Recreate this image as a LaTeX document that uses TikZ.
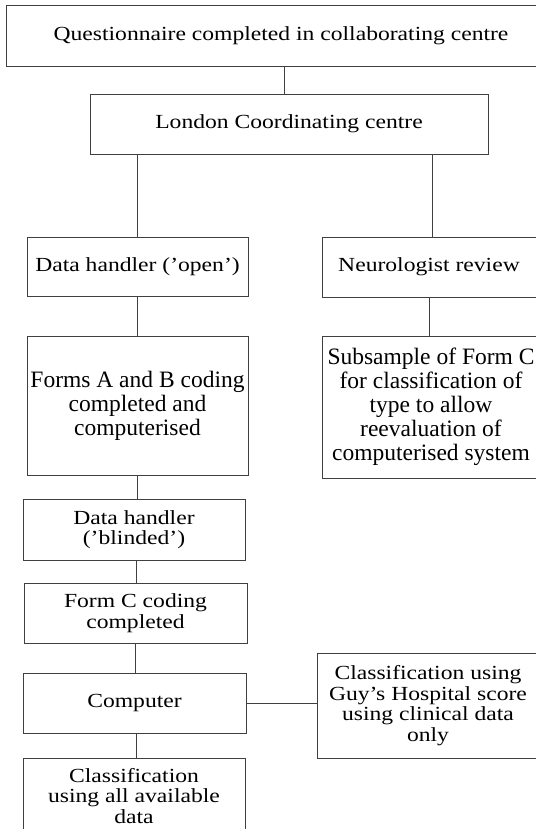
\documentclass[tikz,border=0pt]{standalone}
\usepackage{fontspec}
\setmainfont{Liberation Serif}
\newfontfamily\scanfont{Liberation Serif}[Ligatures=TeX,FakeStretch=1.18]
\usetikzlibrary{positioning}

\begin{document}
\begin{tikzpicture}[x=1pt,y=-1pt,
  box/.style={draw=black!75,line width=0.8pt,align=center,inner sep=0pt,
    font=\scanfont\fontsize{20}{20.5}\selectfont},
  bigbox/.style={box,font=\fontsize{23.5}{24}\selectfont},
  link/.style={draw=black!75,line width=0.8pt}]
  \useasboundingbox (0,0) rectangle (535,829);
  % boxes (absolute positions)
  \node[box,minimum width=550pt,minimum height=61pt] at (281,35.5) (quest) {Questionnaire completed in collaborating centre};
  \node[box,minimum width=398pt,minimum height=60pt] at (289,124) (london) {London Coordinating centre};
  \node[box,minimum width=221pt,minimum height=59pt] at (137.5,266.5) (dhopen) {Data handler ('open')};
  \node[box,minimum width=214pt,minimum height=60pt] at (429,267) (neuro) {Neurologist review};
  \node[bigbox,minimum width=221pt,minimum height=139pt] at (137.5,405.5) (forms) {Forms A and B coding\\completed and\\computerised};
  \node[bigbox,minimum width=218pt,minimum height=142pt] at (431,407) (subsample) {Subsample of Form C\\for classification of\\type to allow\\reevaluation of\\computerised system};
  \node[box,minimum width=222pt,minimum height=61pt] at (134,529.5) (blinded) {Data handler\\('blinded')};
  \node[box,minimum width=223pt,minimum height=60pt] at (135.5,613) (formc) {Form C coding\\completed};
  \node[box,minimum width=223pt,minimum height=60pt] at (134.5,703) (computer) {Computer};
  \node[box,minimum width=222pt,minimum height=76pt] at (134,796) (classall) {Classification\\using all available\\data};
  \node[box,minimum width=222pt,minimum height=105pt] at (428,705.5) (guy) {Classification using\\Guy's Hospital score\\using clinical data\\only};
  % connectors
  \draw[link] ([xshift=-5pt]london.north) -- ([xshift=-5pt]london.north |- quest.south);
  \draw[link] (dhopen.north) -- (dhopen.north |- london.south);
  \draw[link] ([xshift=3pt]neuro.north) -- ([xshift=3pt]neuro.north |- london.south);
  \draw[link] (dhopen.south) -- (forms.north);
  \draw[link] (neuro.south) -- (neuro.south |- subsample.north);
  \draw[link] (forms.south) -- (forms.south |- blinded.north);
  \draw[link] ([xshift=2pt]blinded.south) -- ([xshift=2pt]blinded.south |- formc.north);
  \draw[link] (formc.south) -- (formc.south |- computer.north);
  \draw[link] ([xshift=2pt]computer.south) -- ([xshift=2pt]computer.south |- classall.north);
  \draw[link] (computer.east) -- (computer.east -| guy.west);
\end{tikzpicture}
\end{document}
